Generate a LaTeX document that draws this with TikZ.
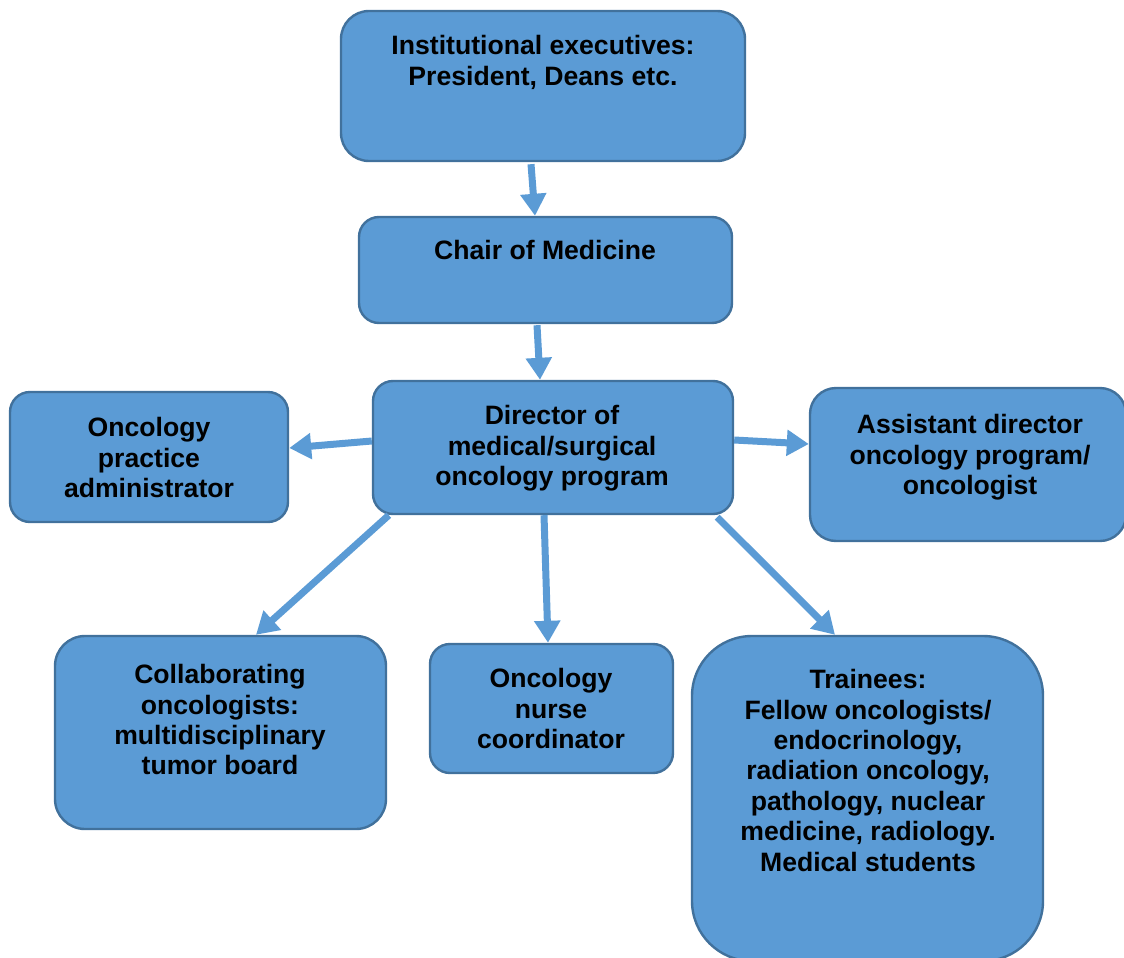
\documentclass[tikz,border=0pt]{standalone}
\usepackage{fontspec}
\setmainfont{Liberation Sans}
\usepackage{xcolor}
\usetikzlibrary{arrows.meta,calc}

\definecolor{boxfill}{HTML}{5B9BD5}
\definecolor{boxline}{HTML}{41719C}

\tikzset{
  orgbox/.style={draw=boxline, fill=boxfill, line width=1.2pt, inner sep=0pt},
  orgtext/.style={anchor=north, align=center, inner sep=0pt,
    font=\fontsize{13.3}{15.2}\selectfont\bfseries},
  orgarrow/.style={draw=boxfill, line width=3.5pt,
    -{Triangle[length=11pt,width=12.5pt]}}
}

\begin{document}
\begin{tikzpicture}[x=0.5pt,y=-0.5pt]
\useasboundingbox (0,0) rectangle (1124,958);
% boxes
\node[orgbox, rounded corners=14pt, minimum width=202pt, minimum height=75pt] (inst) at (543,86) {};
\node[orgbox, rounded corners=10pt, minimum width=186.5pt, minimum height=53pt] (chair) at (545.5,270) {};
\node[orgbox, rounded corners=10pt, minimum width=180pt, minimum height=66.5pt] (dir) at (553,447.5) {};
\node[orgbox, rounded corners=10pt, minimum width=139pt, minimum height=65pt] (prac) at (149,457) {};
\node[orgbox, rounded corners=13pt, minimum width=158pt, minimum height=76.5pt] (asst) at (968,464.5) {};
\node[orgbox, rounded corners=15pt, minimum width=165.5pt, minimum height=96.5pt] (collab) at (220.5,732.5) {};
\node[orgbox, rounded corners=10pt, minimum width=121.5pt, minimum height=64.5pt] (nurse) at (551.5,708.5) {};
\node[orgbox, rounded corners=30pt, minimum width=175.5pt, minimum height=162.5pt] (train) at (867.5,798.5) {};
% texts
\node[orgtext] (instT) at (543,35) {Institutional executives:\\President, Deans etc.};
\node[orgtext] (chairT) at (545,240) {Chair of Medicine};
\node[orgtext] (dirT) at (552,405) {Director of\\medical/surgical\\oncology program};
\node[orgtext] (pracT) at (149,417) {Oncology\\practice\\administrator};
\node[orgtext] (asstT) at (970,414) {Assistant director\\oncology program/\\oncologist};
\node[orgtext] (collabT) at (220,664) {Collaborating\\oncologists:\\multidisciplinary\\tumor board};
\node[orgtext] (nurseT) at (551,668) {Oncology\\nurse\\coordinator};
\node[orgtext] (trainT) at (868,669) {Trainees:\\Fellow oncologists/\\endocrinology,\\radiation oncology,\\pathology, nuclear\\medicine, radiology.\\Medical students};
% arrows
\draw[orgarrow] ($(inst.south)+(-12,2)$) -- ($(chair.north)+(-10.5,0)$);
\draw[orgarrow] ($(chair.south)+(-8.5,1)$) -- ($(dir.north)+(-13,0)$);
\draw[orgarrow] ($(dir.west)+(0,-6.5)$) -- ($(prac.east)+(0,-9)$);
\draw[orgarrow] ($(dir.east)+(0,-7.5)$) -- ($(asst.west)+(0,-20.5)$);
\draw[orgarrow] ($(dir.south west)+(17,0)$) -- ($(collab.north)+(35.5,0)$);
\draw[orgarrow] ($(dir.south)+(-9,0)$) -- ($(nurse.north)+(-3.5,0)$);
\draw[orgarrow] ($(dir.south east)+(-17,2)$) -- ($(train.north)+(-32.5,0)$);
\end{tikzpicture}
\end{document}
